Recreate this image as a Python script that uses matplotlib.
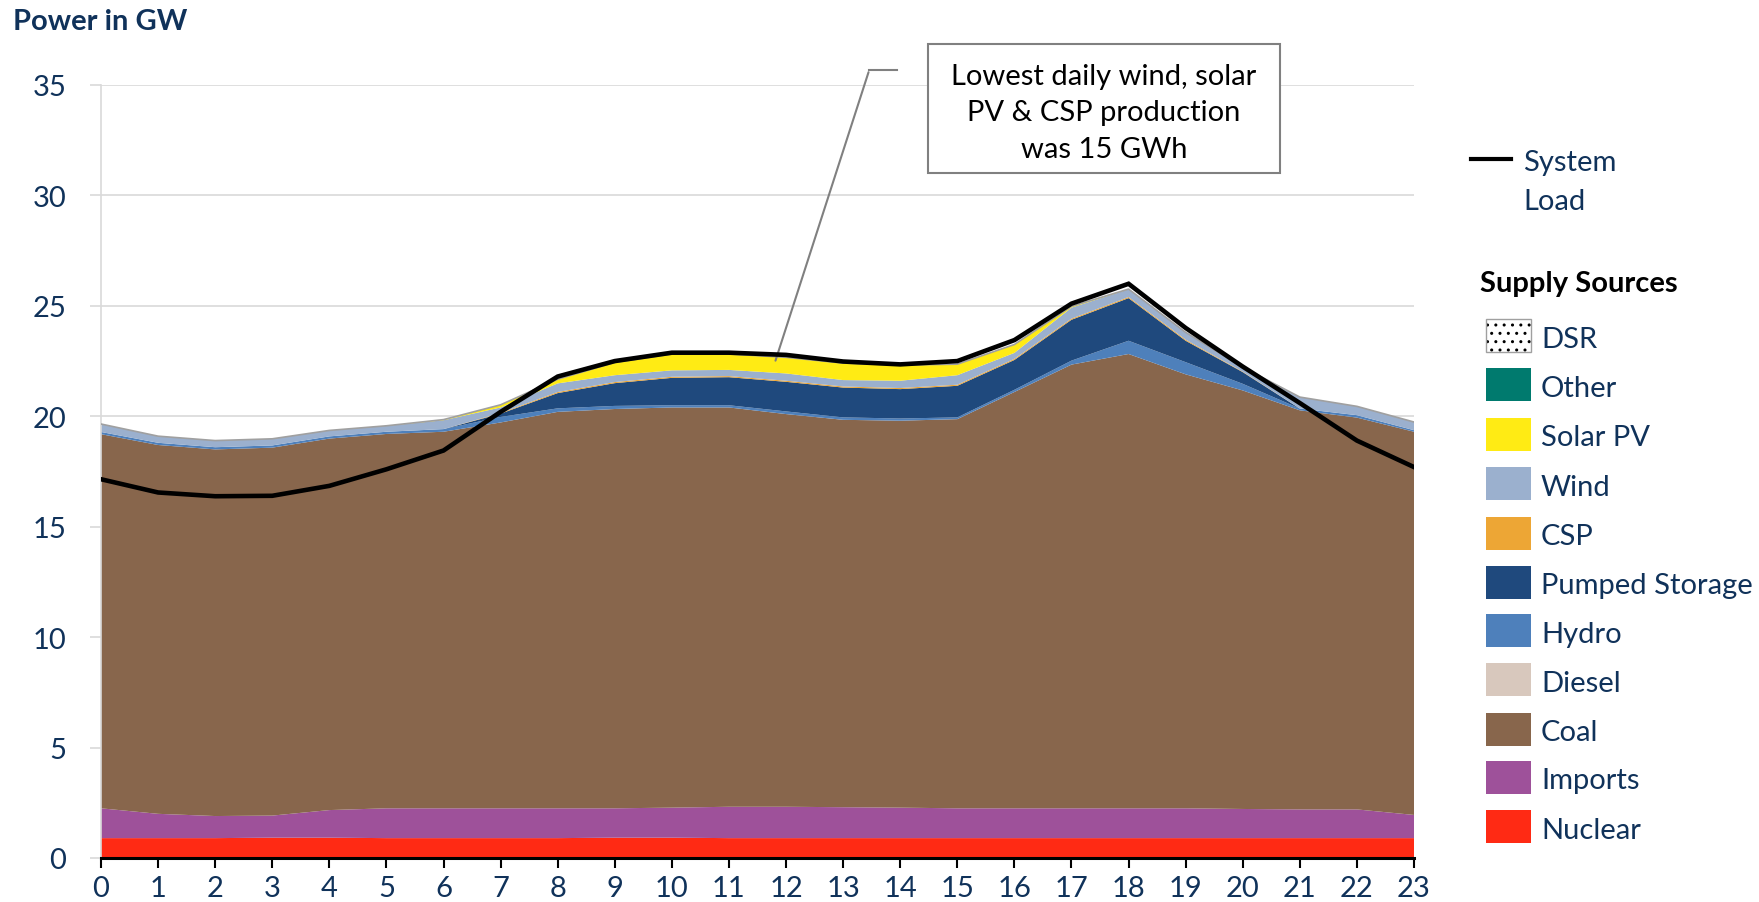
import numpy as np
import matplotlib
matplotlib.use("Agg")
import matplotlib.pyplot as plt
from matplotlib.patches import Rectangle
from matplotlib.lines import Line2D

plt.rcParams['font.family'] = ['Lato', 'DejaVu Sans']

hours = list(range(24))
nuclear = [0.9, 0.9, 0.9, 0.92, 0.92, 0.9, 0.9, 0.9, 0.9, 0.92, 0.92, 0.9, 0.9, 0.9,
           0.9, 0.9, 0.9, 0.9, 0.9, 0.9, 0.9, 0.9, 0.9, 0.9]
imports = [1.35, 1.1, 1.0, 1.0, 1.25, 1.35, 1.35, 1.35, 1.35, 1.33, 1.36, 1.42, 1.42, 1.4,
           1.38, 1.35, 1.35, 1.35, 1.35, 1.35, 1.32, 1.3, 1.3, 1.05]
coal = [16.94, 16.7, 16.6, 16.66, 16.82, 16.95, 17.05, 17.47, 17.95, 18.08, 18.12, 18.08,
        17.78, 17.54, 17.52, 17.62, 18.85, 20.09, 20.57, 19.65, 18.95, 18.07, 17.74, 17.35]
diesel = [0.0] * 24
hydro = [0.1, 0.1, 0.1, 0.1, 0.1, 0.1, 0.12, 0.25, 0.16, 0.14, 0.1, 0.1, 0.12, 0.11,
         0.1, 0.08, 0.1, 0.18, 0.6, 0.55, 0.3, 0.08, 0.11, 0.07]
pumped = [0, 0, 0, 0, 0, 0, 0, 0.15, 0.69, 1.03, 1.24, 1.27, 1.34, 1.35, 1.33, 1.43,
          1.35, 1.85, 1.93, 0.97, 0.53, 0, 0, 0]
csp = [0, 0, 0, 0, 0, 0, 0, 0.03, 0.05, 0.05, 0.05, 0.05, 0.05, 0.05, 0.05, 0.05,
       0.05, 0.05, 0.05, 0.05, 0.02, 0, 0, 0]
wind = [0.36, 0.3, 0.3, 0.3, 0.27, 0.27, 0.4, 0.25, 0.39, 0.31, 0.29, 0.28, 0.33, 0.29,
        0.33, 0.43, 0.27, 0.5, 0.35, 0.33, 0.2, 0.52, 0.4, 0.37]
solar = [0, 0, 0, 0, 0, 0, 0.03, 0.12, 0.19, 0.58, 0.74, 0.72, 0.73, 0.77, 0.71, 0.5,
         0.38, 0.06, 0.01, 0, 0, 0, 0, 0]
other = [0.0] * 24
dsr = [0.0] * 24
system_load = [17.15, 16.55, 16.38, 16.4, 16.85, 17.6, 18.45, 20.2, 21.8, 22.5, 22.88, 22.88,
               22.78, 22.48, 22.35, 22.5, 23.45, 25.1, 26.0, 24.0, 22.25, 20.6, 18.9, 17.7]

series_names = ['Nuclear', 'Imports', 'Coal', 'Diesel', 'Hydro', 'Pumped Storage', 'CSP',
                'Wind', 'Solar PV', 'Other', 'DSR']
series_vals = [nuclear, imports, coal, diesel, hydro, pumped, csp, wind, solar, other, dsr]
colors = ['#FF2A14', '#9E519A', '#88664C', '#D8C8BD', '#4E80BB', '#1F497D', '#EDA635',
          '#9BB0CE', '#FFEB14', '#007A6E', '#FFFFFF']

NAVY = '#10325A'
W, H = 1759, 903
fig = plt.figure(figsize=(W / 100, H / 100), dpi=100)
ax = fig.add_axes([101 / W, 1 - 859 / H, (1414 - 101) / W, (859 - 86) / H])

ax.stackplot(hours, *series_vals, colors=colors, linewidth=0)
total = np.sum(np.array(series_vals), axis=0)
ax.plot(hours, total, color='#A0A0A0', lw=1.2, zorder=3)
ax.plot(hours, system_load, color='black', lw=3.3, zorder=5, solid_joinstyle='miter')

ax.set_xlim(0, 23)
ax.set_ylim(0, 35)
ax.set_xticks(hours)
ax.set_yticks(range(0, 36, 5))
ax.grid(axis='y', color='#D9D9D9', lw=1.2, zorder=0)
ax.set_axisbelow(True)
for s in ['top', 'right']:
    ax.spines[s].set_visible(False)
ax.spines['left'].set_color('#D9D9D9')
ax.spines['left'].set_linewidth(1.2)
ax.spines['bottom'].set_color('black')
ax.spines['bottom'].set_linewidth(2.2)
ax.spines['bottom'].set_zorder(6)
ax.tick_params(axis='y', length=8, width=1.2, color='#D9D9D9', pad=17,
               labelsize=21, labelcolor=NAVY)
ax.tick_params(axis='x', length=7, width=1.5, color='black', pad=5,
               labelsize=21, labelcolor=NAVY)

fig.text(13 / W, 1 - 22 / H, 'Power in GW', fontsize=21, fontweight='bold',
         color=NAVY, ha='left', va='center')

# annotation
ax.annotate('', xy=(11.8, 22.4), xytext=(13.46, 35.7), textcoords='data',
            arrowprops=dict(arrowstyle='-', color='#808080', lw=1.5),
            annotation_clip=False)
ax.plot([13.46, 13.95], [35.7, 35.7], color='#808080', lw=1.5, clip_on=False)
box = Rectangle((928 / W, 1 - 174 / H), (1280 - 928) / W, (174 - 45) / H,
                transform=fig.transFigure, facecolor='white',
                edgecolor='#808080', lw=1.5, zorder=10, clip_on=False)
ax.add_artist(box)
ax.text(1104 / W, 1 - 113 / H, 'Lowest daily wind, solar\nPV & CSP production\nwas 15 GWh',
        transform=fig.transFigure, fontsize=21, color='black', ha='center', va='center',
        linespacing=1.5, zorder=11, clip_on=False)

# legend: system load
fig.lines.append(Line2D([1471 / W, 1511 / W], [1 - 160 / H, 1 - 160 / H],
                        transform=fig.transFigure, color='black', lw=3))
fig.text(1523 / W, 1 - 163 / H, 'System', fontsize=21, color=NAVY, ha='left', va='center')
fig.text(1523 / W, 1 - 202 / H, 'Load', fontsize=21, color=NAVY, ha='left', va='center')
fig.text(1480 / W, 1 - 284 / H, 'Supply Sources', fontsize=21, fontweight='bold',
         color='black', ha='left', va='center')

legend_order = ['DSR', 'Other', 'Solar PV', 'Wind', 'CSP', 'Pumped Storage', 'Hydro',
                'Diesel', 'Coal', 'Imports', 'Nuclear']
rows_y = [336.5, 385.9, 435.3, 484.6, 534.0, 583.3, 631.6, 680.9, 730.3, 778.5, 827.9]
for name, yc in zip(legend_order, rows_y):
    col = colors[series_names.index(name)]
    x0, w, h = 1486, 45, 33
    if name == 'DSR':
        fig.patches.append(Rectangle((x0 / W, 1 - (yc + h / 2) / H), w / W, h / H,
                                     transform=fig.transFigure, facecolor='white',
                                     edgecolor='black', lw=0, hatch='..'))
        fig.patches.append(Rectangle((x0 / W, 1 - (yc + h / 2) / H), w / W, h / H,
                                     transform=fig.transFigure, facecolor='none',
                                     edgecolor='#A0A0A0', lw=1))
    else:
        fig.patches.append(Rectangle((x0 / W, 1 - (yc + h / 2) / H), w / W, h / H,
                                     transform=fig.transFigure, facecolor=col,
                                     edgecolor='none'))
    fig.text(1541 / W, 1 - (yc + 3) / H, name, fontsize=21, color=NAVY, ha='left', va='center')

fig.savefig('out.png', dpi=100)
